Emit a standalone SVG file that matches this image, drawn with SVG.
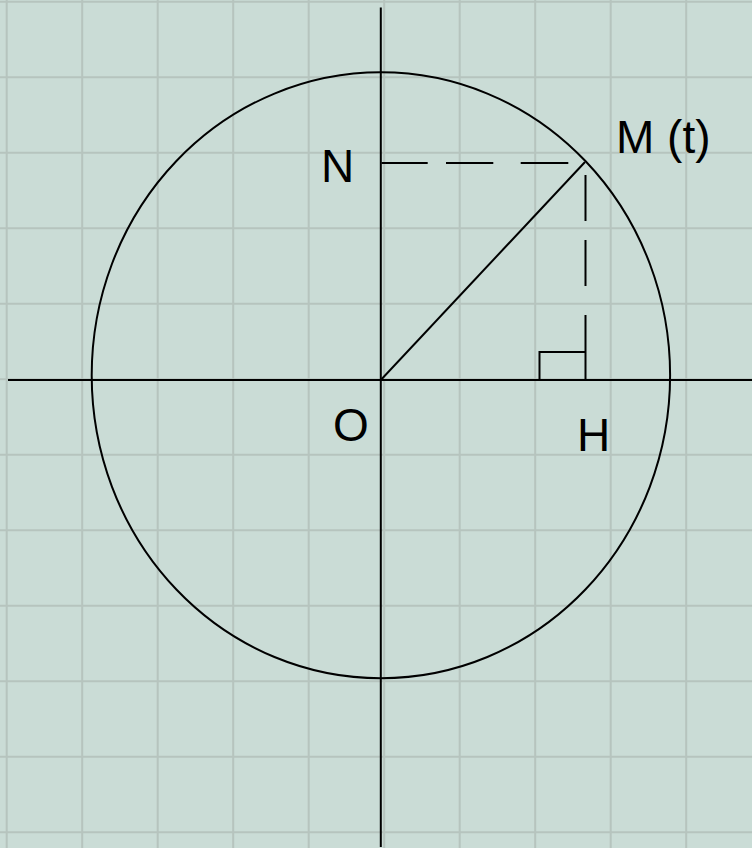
<svg xmlns="http://www.w3.org/2000/svg" width="752" height="848" viewBox="0 0 752 848">
<style>
.grid{stroke:#b6c4be;stroke-width:2;fill:none}
.ln{stroke:#000;stroke-width:2;fill:none}
.lbl{font-family:"Liberation Sans",Arial,sans-serif;font-size:46px;fill:#000}
</style>
<rect width="752" height="848" fill="#cadcd6"/>
<g id="grid" class="grid">
<path d="M6.7 0V848M82.2 0V848M157.7 0V848M233.2 0V848M308.7 0V848M384.2 0V848M459.7 0V848M535.2 0V848M610.7 0V848M686.2 0V848"/>
<path d="M0 1.7H752M0 77.2H752M0 152.7H752M0 228.2H752M0 303.7H752M0 379.2H752M0 454.7H752M0 530.2H752M0 605.7H752M0 681.2H752M0 756.7H752M0 832.2H752"/>
</g>
<g id="axes" class="ln">
<line x1="8" y1="380" x2="752" y2="380"/>
<line x1="380.8" y1="7.5" x2="380.8" y2="847"/>
</g>
<g id="circle">
<ellipse class="ln" cx="380.9" cy="375.3" rx="289.2" ry="303"/>
</g>
<g id="connectors" class="ln">
<line id="OM" x1="380.8" y1="380" x2="585" y2="162"/>
<path id="NM" d="M381.5 163H427.7M446 163H493.3M520.7 163H568.3"/>
<path id="MH" d="M585.5 175V221M585.5 240V286M585.5 315V380"/>
<path id="right-angle" d="M539.5 380V352H585.5"/>
</g>
<g id="label-M"><text class="lbl" x="616" y="153">M (t)</text></g>
<g id="label-N"><text class="lbl" x="321" y="181.5">N</text></g>
<g id="label-O"><text class="lbl" x="333" y="441">O</text></g>
<g id="label-H"><text class="lbl" x="577" y="451">H</text></g>
</svg>
